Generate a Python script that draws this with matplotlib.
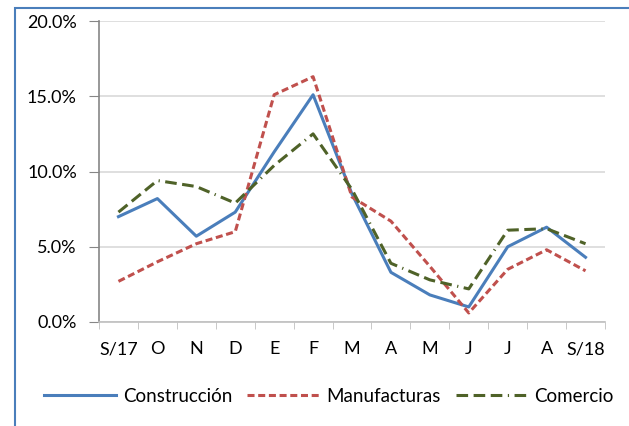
import matplotlib
matplotlib.use("Agg")
import matplotlib.pyplot as plt
from matplotlib.ticker import FuncFormatter, FixedLocator

# Data (percent)
meses = ["S/17", "O", "N", "D", "E", "F", "M", "A", "M", "J", "J", "A", "S/18"]
construccion = [7.0, 8.2, 5.7, 7.3, 11.3, 15.1, 8.5, 3.3, 1.8, 1.0, 5.0, 6.3, 4.3]
manufacturas = [2.7, 4.0, 5.2, 6.0, 15.1, 16.3, 8.3, 6.7, 3.7, 0.6, 3.5, 4.8, 3.4]
comercio = [7.3, 9.4, 9.0, 7.9, 10.4, 12.5, 8.8, 3.9, 2.8, 2.2, 6.1, 6.2, 5.2]

plt.rcParams["font.family"] = ["Lato", "DejaVu Sans"]

fig = plt.figure(figsize=(6.29, 4.26), dpi=100)
ax = fig.add_axes([99 / 629, 1 - 322 / 426, 506 / 629, 301 / 426])

x = list(range(len(meses)))
ax.plot(x, construccion, color="#4A7EBB", lw=2.2, label="Construcción", zorder=3)
ax.plot(x, manufacturas, color="#C0504D", lw=2.2, linestyle=(0, (2.3, 1.2)),
        label="Manufacturas", zorder=3)
ax.plot(x, comercio, color="#4F6228", lw=2.2,
        linestyle=(0, (3.8, 1.8, 3.8, 1.8, 3.8, 1.8, 0.4, 1.8)),
        label="Comercio", zorder=3)

ax.set_xlim(-0.5, len(meses) - 0.5)
ax.set_ylim(0, 20)
ax.set_xticks(x)
ax.set_xticklabels(meses)
ax.xaxis.set_minor_locator(FixedLocator([i - 0.5 for i in range(len(meses) + 1)]))
ax.tick_params(axis="x", which="major", length=0, pad=14, labelsize=13)
ax.tick_params(axis="x", which="minor", length=5, color="#BFBFBF", direction="out")
ax.set_yticks([0, 5, 10, 15, 20])
ax.yaxis.set_major_formatter(FuncFormatter(lambda v, p: f"{v:.1f}%"))
ax.tick_params(axis="y", length=7, color="#868686", pad=9, labelsize=13)

ax.grid(axis="y", color="#D9D9D9", lw=1.2, zorder=0)
for s in ["top", "right"]:
    ax.spines[s].set_visible(False)
ax.spines["left"].set_color("#868686")
ax.spines["bottom"].set_color("#BFBFBF")
ax.spines["left"].set_linewidth(1.2)
ax.spines["bottom"].set_linewidth(1.2)

fig.legend(loc="center", bbox_to_anchor=(329 / 629, 1 - 396 / 426), ncol=3,
           frameon=False, fontsize=13.5, handlelength=3.8, handletextpad=0.4,
           columnspacing=0.8)

# outer chart border (only left and top visible in the crop)
fig.add_artist(plt.Rectangle((15 / 629, -0.1), 1.0, 1.1 - 8 / 426, fill=False,
                             edgecolor="#4A7EBB", lw=1.5,
                             transform=fig.transFigure, clip_on=False))

fig.savefig("out.png", dpi=100)
